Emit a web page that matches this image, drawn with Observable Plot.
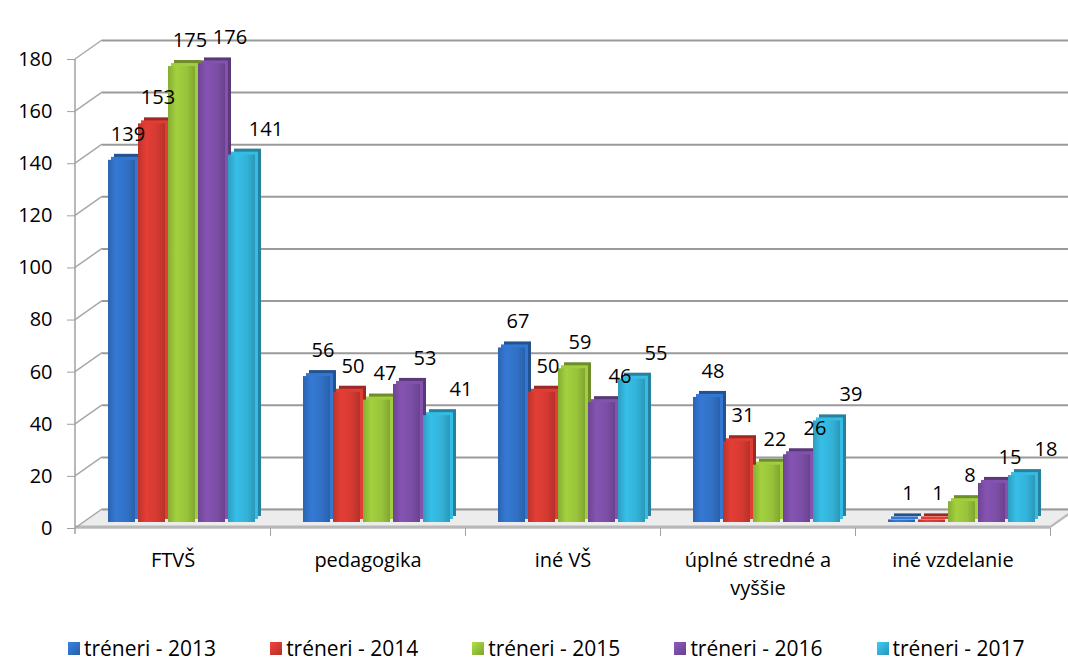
<!DOCTYPE html>
<html>
<head>
<meta charset="utf-8">
<script src="https://cdn.jsdelivr.net/npm/d3@7"></script>
<script src="https://cdn.jsdelivr.net/npm/@observablehq/plot@0.6"></script>
<style>
  html, body { margin: 0; padding: 0; background: #fff; }
  body { width: 1068px; height: 666px; overflow: hidden; font-family: "Open Sans", Lato, sans-serif; }
  #legend { display: flex; align-items: center; gap: 54px; padding-left: 68px; padding-top: 10px; height: 36px; font-size: 21px; color: #000; }
  .item { display: flex; align-items: center; gap: 4px; white-space: nowrap; }
  .sw { width: 12px; height: 13px; display: inline-block; }
</style>
</head>
<body>
<div id="chart"></div>
<div id="legend"></div>
<script>
// ---- data ----
const categories = ["FTVŠ", "pedagogika", "iné VŠ", "úplné stredné a vyššie", "iné vzdelanie"];
const seriesNames = ["tréneri - 2013", "tréneri - 2014", "tréneri - 2015", "tréneri - 2016", "tréneri - 2017"];
const v2013 = [139, 56, 67, 48, 1];
const v2014 = [153, 50, 50, 31, 1];
const v2015 = [175, 47, 59, 22, 8];
const v2016 = [176, 53, 46, 26, 15];
const v2017 = [141, 41, 55, 39, 18];
const yTicks = [0, 20, 40, 60, 80, 100, 120, 140, 160, 180];
const seriesColors = ["#3171c6", "#d43a31", "#98c33a", "#7c4ea6", "#33b2d8"];
const categoryLabels = ["FTVŠ", "pedagogika", "iné VŠ", "úplné stredné a\nvyššie", "iné vzdelanie"];

const allValues = [v2013, v2014, v2015, v2016, v2017];

// ---- layout / style constants ----
const W = 1068, H = 620;
const DX = 27, DY = -19;       // 3D wall depth
const BAR_LIFT = -6;           // bars sit mid-depth
const DEPTH = 6;               // bar depth
const BAND = (W - 75 - 18) / categories.length;
const GROUP_START = 33, STEP = 30, BAR_W = 27;
const LABEL_SHIFT = [6, 6, 8, 18, 24]; // Excel-style label drift per series

const seriesData = allValues.map((vals, j) =>
  categories.map((c, i) => ({cat: c, value: vals[i], series: seriesNames[j]})));

function wall(index, scales, values, dims) {
  const g = d3.create("svg:g");
  const x0 = dims.marginLeft, x1 = dims.width - dims.marginRight;
  const y0 = scales.y(0), yTop = scales.y(d3.max(yTicks));
  // floor
  g.append("polygon")
    .attr("points", [[x0, y0], [x1, y0], [x1 + DX, y0 + DY], [x0 + DX, y0 + DY]].join(" "))
    .attr("fill", "#ececec").attr("stroke", "#c4c4c4").attr("stroke-width", 1);
  g.append("line").attr("x1", x0).attr("x2", x1).attr("y1", y0 - 1).attr("y2", y0 - 1)
    .attr("stroke", "#b8b8b8").attr("stroke-width", 3);
  g.append("line").attr("x1", x1).attr("x2", x1 + DX).attr("y1", y0 - 1).attr("y2", y0 - 1 + DY)
    .attr("stroke", "#b8b8b8").attr("stroke-width", 2);
  // wall diagonals on the left side
  for (const t of yTicks) {
    const y = scales.y(t);
    g.append("line").attr("x1", x0).attr("y1", y).attr("x2", x0 + DX).attr("y2", y + DY)
      .attr("stroke", "#a8a8a8").attr("stroke-width", 1.5);
  }
  // y axis line
  g.append("line").attr("x1", x0).attr("x2", x0).attr("y1", yTop).attr("y2", y0 + 6)
    .attr("stroke", "#a0a0a0").attr("stroke-width", 1.5);
  return g.node();
}

const marks = [
  wall,
  Plot.ruleY(yTicks, {dx: DX, dy: DY, stroke: "#9a9a9a", strokeWidth: 2})
];

seriesData.forEach((rows, j) => {
  const left = GROUP_START + STEP * j;
  const right = BAND - left - BAR_W;
  const dark = d3.color(seriesColors[j]).darker(0.9).formatHex();
  marks.push(Plot.barY(rows, {x: "cat", y: "value", insetLeft: left, insetRight: right,
    dx: DEPTH, dy: BAR_LIFT - DEPTH, fill: dark}));
  marks.push(Plot.barY(rows, {x: "cat", y: "value", insetLeft: left, insetRight: right,
    dx: DEPTH / 2, dy: BAR_LIFT - DEPTH / 2, fill: d3.color(seriesColors[j]).brighter(0.15).formatHex()}));
  marks.push(Plot.barY(rows, {x: "cat", y: "value", insetLeft: left, insetRight: right,
    dy: BAR_LIFT, fill: `url(#grad${j})`}));
});

seriesData.forEach((rows, j) => {
  const center = GROUP_START + STEP * j + BAR_W / 2 + LABEL_SHIFT[j];
  marks.push(Plot.text(rows, {x: "cat", y: "value", text: "value", dx: center - BAND / 2, dy: BAR_LIFT - 26,
    fontSize: 20, fill: "#000"}));
});

marks.push(
  Plot.axisY({ticks: yTicks, tickSize: 8, tickPadding: 15, fontSize: 20, stroke: "#a0a0a0", fill: "#000", label: null}),
  Plot.axisX({tickSize: 0, tickPadding: 19, fontSize: 20, lineHeight: 1.4, fill: "#000",
    tickFormat: (d) => categoryLabels[categories.indexOf(d)], label: null}),
  Plot.axisX({tickSize: 8, dx: BAND / 2, stroke: "#a0a0a0", tickFormat: () => "", label: null})
);

const chart = Plot.plot({
  width: W, height: H,
  marginLeft: 75, marginRight: 18, marginTop: 59, marginBottom: 92,
  style: {fontFamily: "'Open Sans', Lato, sans-serif", background: "#fff", overflow: "hidden"},
  x: {domain: categories, padding: 0, axis: null},
  y: {domain: [0, 180], axis: null},
  marks
});

// gradients for bar faces
const defs = d3.select(chart).insert("defs", ":first-child");
seriesColors.forEach((c, j) => {
  const base = d3.color(c);
  const grad = defs.append("linearGradient").attr("id", `grad${j}`)
    .attr("x1", "0").attr("x2", "1").attr("y1", "0").attr("y2", "0");
  grad.append("stop").attr("offset", "0").attr("stop-color", base.darker(0.35).formatHex());
  grad.append("stop").attr("offset", "0.3").attr("stop-color", base.brighter(0.2).formatHex());
  grad.append("stop").attr("offset", "0.7").attr("stop-color", base.formatHex());
  grad.append("stop").attr("offset", "1").attr("stop-color", base.darker(0.45).formatHex());
});

document.getElementById("chart").appendChild(chart);

// legend
const legend = d3.select("#legend");
seriesNames.forEach((s, j) => {
  const it = legend.append("div").attr("class", "item");
  it.append("span").attr("class", "sw").style("background", `linear-gradient(135deg, ${d3.color(seriesColors[j]).brighter(0.4)}, ${d3.color(seriesColors[j]).darker(0.5)})`);
  it.append("span").text(s);
});
</script>
</body>
</html>
